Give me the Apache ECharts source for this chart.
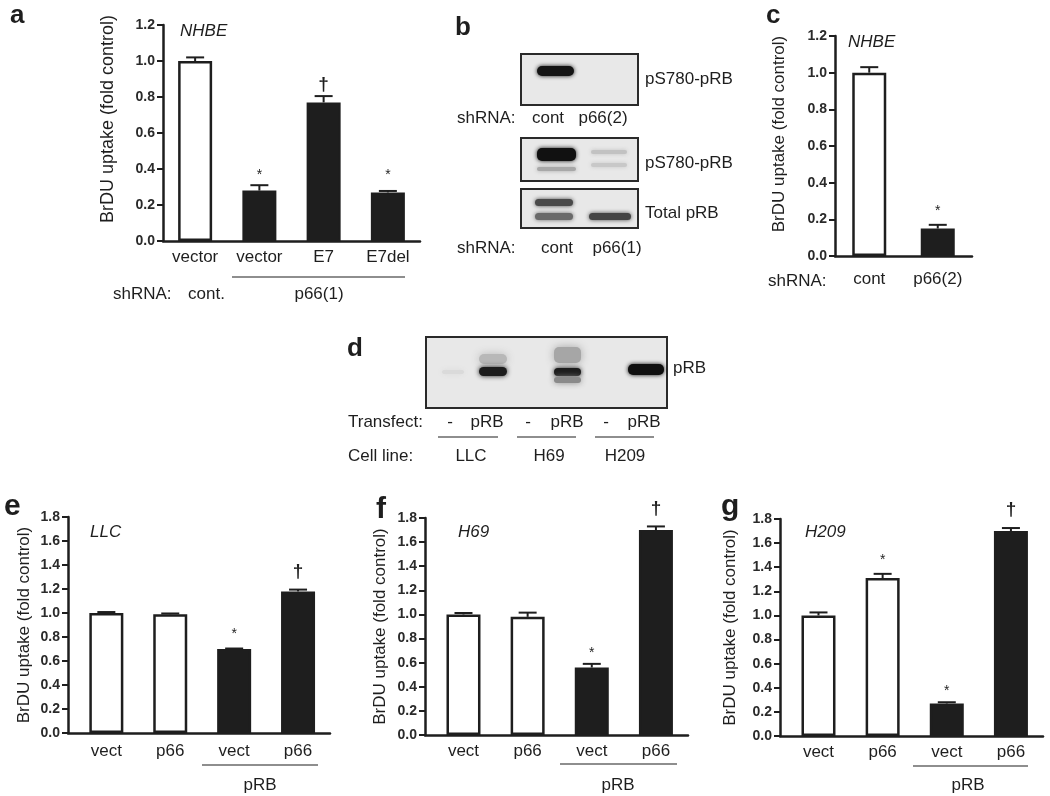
<!DOCTYPE html>
<html>
<head>
<meta charset="utf-8">
<script src="https://cdn.jsdelivr.net/npm/echarts@6/dist/echarts.min.js"></script>
<style>
html, body { margin: 0; background: #fff; }
#main { width: 1050px; height: 796px; }
</style>
</head>
<body>
<div id="main"></div>
<script>
// ---- data ----
var catsA = ['vector', 'vector', 'E7', 'E7del'];
var valsA = [1.00, 0.28, 0.77, 0.27];
var errsA = [0.02, 0.03, 0.035, 0.008];
var marksA = [[1, 0.38, '*'], [2, 0.87, '†'], [3, 0.38, '*']];

var catsC = ['cont', 'p66(2)'];
var valsC = [1.00, 0.15];
var errsC = [0.03, 0.02];
var marksC = [[1, 0.26, '*']];

var catsEFG = ['vect', 'p66', 'vect', 'p66'];
var valsE = [1.00, 0.99, 0.70, 1.18];
var errsE = [0.008, 0.006, 0.004, 0.015];
var marksE = [[2, 0.85, '*'], [3, 1.34, '†']];

var valsF = [1.00, 0.98, 0.56, 1.70];
var errsF = [0.012, 0.035, 0.03, 0.03];
var marksF = [[2, 0.70, '*'], [3, 1.88, '†']];

var valsG = [1.00, 1.31, 0.27, 1.70];
var errsG = [0.025, 0.035, 0.01, 0.025];
var marksG = [[1, 1.48, '*'], [2, 0.40, '*'], [3, 1.88, '†']];

var yMaxTop = 1.2, yMaxBottom = 1.8, yStep = 0.2;
var yTitle = 'BrDU uptake (fold control)';

// ---- styling ----
var FONT = 'Liberation Sans, Arial, Helvetica, sans-serif';
var INK = '#1e1e1e';
var FS = 17;

// nameShift: moves the rotated axis title up (px*2 of padding)
var panels = [
  { grid: { left: 163, top: 25, width: 257, height: 216 }, cats: catsA, vals: valsA, errs: errsA, marks: marksA,
    nOpen: 1, yMax: yMaxTop, xMin: -0.5, xMax: 3.5, lblMargin: 8, nameGap: 46, nameSize: 18, nameShift: 28 },
  { grid: { left: 835, top: 36, width: 137, height: 220 }, cats: catsC, vals: valsC, errs: errsC, marks: marksC,
    nOpen: 1, yMax: yMaxTop, xMin: -0.5, xMax: 1.5, lblMargin: 15, nameGap: 47, nameSize: 17, nameShift: 24 },
  { grid: { left: 68, top: 517, width: 262, height: 216 }, cats: catsEFG, vals: valsE, errs: errsE, marks: marksE,
    nOpen: 2, yMax: yMaxBottom, xMin: -0.6, xMax: 3.5, lblMargin: 10, nameGap: 35, nameSize: 17, nameShift: 0 },
  { grid: { left: 425, top: 518, width: 263, height: 217 }, cats: catsEFG, vals: valsF, errs: errsF, marks: marksF,
    nOpen: 2, yMax: yMaxBottom, xMin: -0.6, xMax: 3.5, lblMargin: 8, nameGap: 36, nameSize: 17, nameShift: 0 },
  { grid: { left: 780, top: 519, width: 263, height: 217 }, cats: catsEFG, vals: valsG, errs: errsG, marks: marksG,
    nOpen: 2, yMax: yMaxBottom, xMin: -0.6, xMax: 3.5, lblMargin: 8, nameGap: 41, nameSize: 17, nameShift: 0 }
];

function errItem(params, api) {
  var x = api.value(0), v = api.value(1), e = api.value(2);
  var b = api.coord([x, v]);
  var t = api.coord([x, v + e]);
  return {
    type: 'group',
    children: [
      { type: 'line', shape: { x1: b[0], y1: b[1], x2: t[0], y2: t[1] }, style: { stroke: INK, lineWidth: 2 } },
      { type: 'line', shape: { x1: t[0] - 9, y1: t[1], x2: t[0] + 9, y2: t[1] }, style: { stroke: INK, lineWidth: 2 } }
    ]
  };
}

function markItem(marks) {
  return function (params, api) {
    var p = api.coord([api.value(0), api.value(1)]);
    var s = marks[params.dataIndex][2];
    var star = s === '*';
    return {
      type: 'text',
      x: p[0], y: p[1] + (star ? 3 : 0),
      style: {
        text: s, fill: INK, fontFamily: FONT,
        fontSize: star ? 14 : 19, fontWeight: star ? 'normal' : 'bold',
        align: 'center', verticalAlign: 'middle'
      }
    };
  };
}

var grids = [], xAxes = [], yAxes = [], series = [];
panels.forEach(function (p, i) {
  grids.push(p.grid);
  xAxes.push({
    type: 'value', gridIndex: i, min: p.xMin, max: p.xMax,
    axisLine: { show: true, onZero: false, lineStyle: { color: INK, width: 2.5 } },
    axisTick: { show: false },
    splitLine: { show: false },
    axisLabel: {
      customValues: p.cats.map(function (c, k) { return k; }),
      formatter: function (v) { return p.cats[Math.round(v)]; },
      margin: p.lblMargin, fontSize: FS, color: INK, fontFamily: FONT
    }
  });
  yAxes.push({
    type: 'value', gridIndex: i, min: 0, max: p.yMax, interval: yStep,
    name: yTitle, nameLocation: 'middle', nameGap: p.nameGap,
    nameTextStyle: { fontSize: p.nameSize, color: INK, fontFamily: FONT, padding: [0, 0, 0, p.nameShift] },
    axisLine: { show: true, onZero: false, lineStyle: { color: INK, width: 2.5 } },
    axisTick: { show: true, length: 6, lineStyle: { color: INK, width: 2 } },
    splitLine: { show: false },
    axisLabel: {
      formatter: function (v) { return v.toFixed(1); },
      margin: 8, fontSize: 14, fontWeight: 'bold', color: '#2a2a2a', fontFamily: FONT
    }
  });
  series.push({
    type: 'bar', xAxisIndex: i, yAxisIndex: i, barWidth: 34, silent: true,
    itemStyle: { borderColor: INK, borderWidth: 2.5 },
    data: p.vals.map(function (v, k) {
      return { value: [k, v], itemStyle: { color: k < p.nOpen ? '#fff' : INK } };
    })
  });
  series.push({
    type: 'custom', xAxisIndex: i, yAxisIndex: i, silent: true, z: 3,
    renderItem: errItem,
    data: p.vals.map(function (v, k) { return [k, v, p.errs[k]]; })
  });
  series.push({
    type: 'custom', xAxisIndex: i, yAxisIndex: i, silent: true, z: 4, clip: false,
    renderItem: markItem(p.marks),
    data: p.marks.map(function (m) { return [m[0], m[1]]; })
  });
});

// ---- annotation helpers ----
function T(x, y, text, o) {
  o = o || {};
  return {
    type: 'text', x: x, y: y, z: 20, silent: true,
    style: {
      text: text, fill: INK, fontFamily: FONT,
      fontSize: o.size || FS, fontWeight: o.weight || 'normal', fontStyle: o.style || 'normal',
      align: o.align || 'left', verticalAlign: 'middle'
    }
  };
}
function L(x1, y1, x2, y2) {
  return { type: 'line', z: 20, silent: true, shape: { x1: x1, y1: y1, x2: x2, y2: y2 },
    style: { stroke: INK, lineWidth: 1.2 } };
}
function box(x, y, w, h) {
  return { type: 'rect', z: 15, silent: true, shape: { x: x, y: y, width: w, height: h },
    style: { fill: '#e8e8e8', stroke: '#2a2a2a', lineWidth: 2 } };
}
function band(x, y, w, h, color, blur) {
  return { type: 'rect', z: 16, silent: true, shape: { x: x, y: y, width: w, height: h, r: Math.min(h / 2, 5) },
    style: { fill: color, shadowBlur: blur, shadowColor: color } };
}

var graphics = [
  // panel letters
  T(10, 16, 'a', { size: 26, weight: 'bold' }),
  T(455, 28, 'b', { size: 26, weight: 'bold' }),
  T(766, 16, 'c', { size: 26, weight: 'bold' }),
  T(347, 349, 'd', { size: 26, weight: 'bold' }),
  T(4, 507, 'e', { size: 30, weight: 'bold' }),
  T(376, 510, 'f', { size: 30, weight: 'bold' }),
  T(721, 507, 'g', { size: 30, weight: 'bold' }),

  // panel a
  T(180, 31, 'NHBE', { style: 'italic' }),
  T(113, 294, 'shRNA:'), T(188, 294, 'cont.'),
  L(232, 277, 405, 277), T(319, 294, 'p66(1)', { align: 'center' }),

  // panel c
  T(848, 42, 'NHBE', { style: 'italic' }),
  T(768, 281, 'shRNA:'),

  // panel b blots
  box(521, 54, 117, 51),
  band(537, 66, 37, 10, '#141414', 4),
  T(645, 79, 'pS780-pRB'),
  T(457, 118, 'shRNA:'), T(548, 118, 'cont', { align: 'center' }), T(603, 118, 'p66(2)', { align: 'center' }),

  box(521, 138, 117, 43),
  band(537, 148, 39, 13, '#111', 4),
  band(537, 167, 39, 4, '#a8a8a8', 4),
  band(591, 150, 36, 4, '#c2c2c2', 4),
  band(591, 163, 36, 4, '#c8c8c8', 4),
  T(645, 163, 'pS780-pRB'),

  box(521, 189, 117, 39),
  band(535, 199, 38, 7, '#4a4a4a', 4),
  band(535, 213, 38, 7, '#6a6a6a', 4),
  band(589, 213, 42, 7, '#454545', 4),
  T(645, 213, 'Total pRB'),
  T(457, 248, 'shRNA:'), T(557, 248, 'cont', { align: 'center' }), T(617, 248, 'p66(1)', { align: 'center' }),

  // panel d blot
  box(426, 337, 241, 71),
  band(442, 370, 22, 4, '#dadada', 5),
  band(479, 354, 28, 10, '#b8b8b8', 8),
  band(479, 367, 28, 9, '#1c1c1c', 5),
  band(554, 347, 27, 16, '#a6a6a6', 8),
  band(554, 368, 27, 8, '#1c1c1c', 5),
  band(554, 377, 27, 6, '#8a8a8a', 6),
  band(628, 364, 36, 11, '#0f0f0f', 4),
  T(673, 368, 'pRB'),
  T(348, 422, 'Transfect:'),
  T(450, 422, '-', { align: 'center' }), T(487, 422, 'pRB', { align: 'center' }),
  T(528, 422, '-', { align: 'center' }), T(567, 422, 'pRB', { align: 'center' }),
  T(606, 422, '-', { align: 'center' }), T(644, 422, 'pRB', { align: 'center' }),
  L(438, 437, 498, 437), L(517, 437, 576, 437), L(595, 437, 654, 437),
  T(348, 456, 'Cell line:'),
  T(471, 456, 'LLC', { align: 'center' }), T(549, 456, 'H69', { align: 'center' }), T(625, 456, 'H209', { align: 'center' }),

  // panels e, f, g
  T(90, 532, 'LLC', { style: 'italic' }),
  L(202, 765, 318, 765), T(260, 785, 'pRB', { align: 'center' }),
  T(458, 532, 'H69', { style: 'italic' }),
  L(560, 764, 677, 764), T(618, 785, 'pRB', { align: 'center' }),
  T(805, 532, 'H209', { style: 'italic' }),
  L(913, 766, 1028, 766), T(968, 785, 'pRB', { align: 'center' })
];

var myChart = echarts.init(document.getElementById('main'));
myChart.setOption({
  animation: false,
  backgroundColor: '#fff',
  textStyle: { fontFamily: FONT },
  grid: grids,
  xAxis: xAxes,
  yAxis: yAxes,
  series: series,
  graphic: graphics
});
</script>
</body>
</html>
